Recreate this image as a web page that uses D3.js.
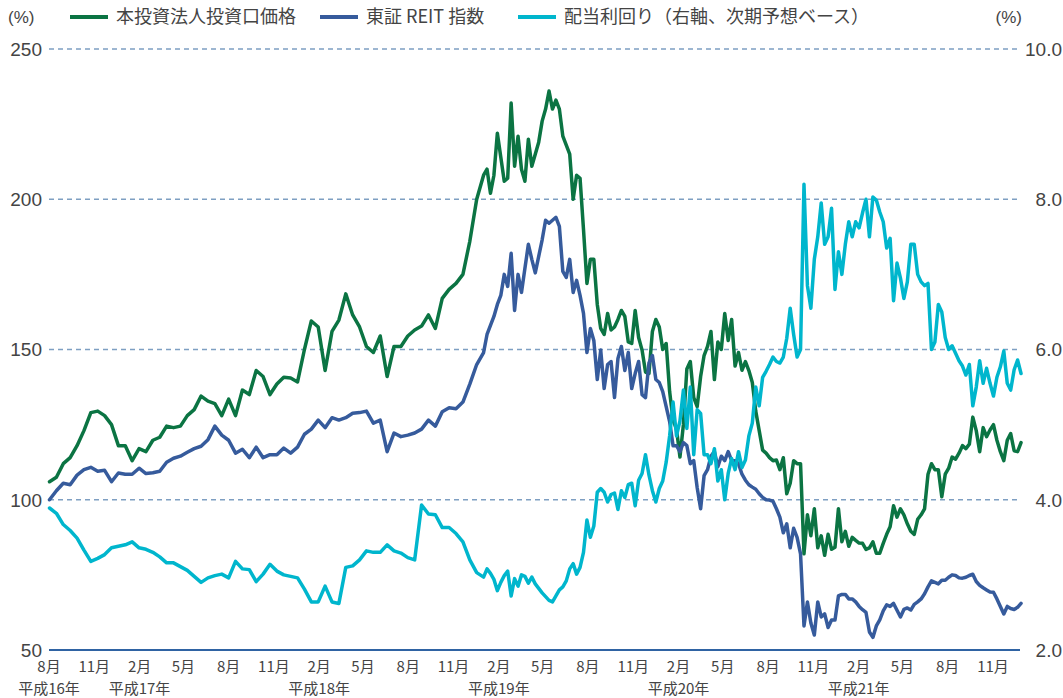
<!DOCTYPE html>
<html>
<head>
<meta charset="utf-8">
<title>本投資法人投資口価格・東証REIT指数・配当利回り</title>
<style>
  body { margin: 0; background: #fff; }
  text { font-family: "Liberation Sans", "Noto Sans CJK JP", sans-serif; fill: #444; }
  .jp { font-family: "Noto Sans CJK JP", sans-serif; }
</style>
<script src="https://cdn.jsdelivr.net/npm/d3@7"></script>
</head>
<body>
<script>
// observations: every 2 weeks from 2004-08-02, then weekly from 2007-01-01
var startDate = new Date(2004, 7, 2);
var biweeklyCount = 63;
var weeklyStart = new Date(2007, 0, 1);

// 本投資法人投資口価格 (index, left axis)
var unitPrice = [
  106, 107.5, 112, 114, 118, 123, 129, 129.5, 128, 125,
  118, 118, 113, 117, 116, 119.8, 120.8, 124.5, 124, 124.5,
  128, 130, 134.5, 132.8, 132, 128, 133.5, 128, 136.5, 135,
  143, 141, 135, 138.5, 140.8, 140.5, 139.2, 150, 159.5, 157.5,
  143, 156, 159.8, 168.5, 161.5, 157.5, 151, 149, 154.5, 141,
  151, 151, 154.5, 156.5, 157.8, 161.5, 157, 167, 170, 172,
  175, 186, 200,
  // weekly from 2007
  208, 210, 202, 208, 222, 214, 206, 207, 232, 211,
  221, 210, 206, 220, 211, 215, 219, 226, 230, 236,
  230, 233, 230, 221, 218, 215, 200, 208, 207, 190,
  172, 180, 180, 165, 157, 155, 162, 156.5, 157.5, 160,
  163, 161, 152.5, 152, 163, 154, 149.8, 142.5, 142, 156,
  160, 157.5, 150, 152, 136, 126.5, 123.5, 114.2, 125, 143.5,
  146, 134, 131, 141, 148, 151, 156, 140, 152.5, 150,
  162, 153, 160, 144.5, 149, 143.1, 146, 143, 139, 129.5,
  123, 116.5, 115.5, 114, 113, 113.2, 110, 114, 102, 105.5,
  113, 112, 112, 82, 95, 88, 97, 84, 88, 81.5,
  88.5, 83.5, 84.2, 97, 86, 89.5, 84.5, 87.5, 86.5, 85.6,
  85.5, 83.5, 84, 86, 82.2, 82.2, 85.5, 88.5, 91, 98,
  94.2, 97, 95, 92, 89.5, 88.5, 93.5, 95, 97, 108.5,
  112, 110, 110, 101, 108.5, 110.5, 114.2, 113.5, 115.5, 118,
  117, 118.5, 127.5, 123, 116, 124, 121, 123.2, 125, 119.8,
  116, 113, 119.8, 122, 116.3, 116, 119
];

// 東証REIT指数 (index, left axis)
var reitIndex = [
  100, 103, 105.5, 105, 108.2, 110, 110.8, 109.5, 109.8, 106,
  108.9, 108.5, 108.5, 110.5, 108.7, 109, 109.5, 112.5, 113.8, 114.5,
  115.8, 117, 117.8, 120, 124.5, 121.5, 119.8, 115.5, 116.8, 114,
  117.5, 114, 115, 115, 117.2, 115.5, 117.5, 121.8, 123.5, 126.5,
  124, 127.3, 126.5, 127.3, 128.8, 129, 129.5, 125.5, 126.5, 116,
  122.2, 121, 121.5, 122.2, 123.5, 126.5, 124.5, 129.3, 130.6, 130.3,
  132.5, 138.5, 145,
  // weekly from 2007
  149, 155, 158, 161, 165, 168, 175, 171, 182, 163,
  175, 169, 177, 185, 180, 175.5, 181, 186.5, 193, 192,
  193, 194, 191, 176, 174, 180, 169, 173, 168, 162,
  149, 157, 153, 140, 149.8, 137, 145, 146, 134, 147,
  151, 143, 149, 137, 142, 146, 135, 134, 145.5, 148,
  140, 139, 136, 131, 126, 118, 118, 116, 119, 118,
  112, 113, 104, 97, 108, 110, 114.5, 116, 111, 114.5,
  113, 116, 113, 113, 112, 108.5, 106.5, 105, 104.2, 103.5,
  102, 100.8, 100, 99.9, 99.5, 97, 94.2, 89, 92, 84,
  90.5, 87.5, 82, 58, 66, 59, 55, 66, 61, 62,
  57.5, 60, 60, 68, 68.5, 68.5, 67, 67, 66, 64.5,
  63.4, 62.5, 56, 54.2, 58, 60, 63, 65, 64.5, 65.5,
  63.2, 61, 63.5, 64, 63.3, 65.2, 66, 67, 68.7, 71,
  73, 72.5, 72, 73.2, 73.2, 74.2, 75, 74.8, 74, 73.9,
  74.2, 74.8, 75.2, 72.8, 71.5, 70.7, 70, 69.3, 69.2, 67,
  64.5, 62, 64.5, 63.8, 63.5, 64.2, 65.5
];

// 配当利回り (%, right axis, 次期予想ベース)
var dividendYield = [
  3.89, 3.82, 3.67, 3.59, 3.49, 3.33, 3.18, 3.22, 3.27, 3.36,
  3.38, 3.40, 3.44, 3.36, 3.34, 3.30, 3.24, 3.16, 3.16, 3.11,
  3.06, 2.98, 2.90, 2.96, 2.99, 3.01, 2.96, 3.18, 3.08, 3.07,
  2.91, 3.01, 3.14, 3.05, 3.00, 2.98, 2.96, 2.81, 2.64, 2.64,
  2.85, 2.64, 2.62, 3.10, 3.12, 3.20, 3.32, 3.30, 3.30, 3.40,
  3.32, 3.29, 3.23, 3.20, 3.93, 3.81, 3.80, 3.63, 3.63, 3.55,
  3.44, 3.20, 3.03,
  // weekly from 2007
  2.97, 3.08, 3.02, 2.94, 2.79, 2.90, 2.99, 3.05, 2.72, 2.95,
  2.85, 3.00, 2.98, 2.89, 2.97, 2.88, 2.82, 2.76, 2.71, 2.66,
  2.64, 2.72, 2.80, 2.84, 2.92, 3.08, 3.15, 3.01, 3.10, 3.30,
  3.73, 3.50, 3.65, 4.10, 4.15, 4.10, 3.97, 4.07, 4.09, 3.87,
  4.12, 4.03, 4.20, 4.22, 3.92, 4.26, 4.35, 4.60, 4.33, 4.12,
  3.97, 4.15, 4.25, 4.50, 4.85, 5.30, 4.85, 5.05, 5.46, 4.95,
  5.50, 4.60, 5.20, 5.15, 4.60, 4.60, 4.48, 4.68, 4.25, 4.40,
  4.00, 4.35, 4.55, 4.40, 4.64, 4.43, 4.53, 4.85, 5.02, 5.50,
  5.25, 5.63, 5.71, 5.80, 5.90, 5.84, 5.82, 5.90, 6.15, 6.55,
  6.20, 5.90, 6.00, 8.20, 6.85, 6.55, 7.20, 7.50, 7.95, 7.40,
  7.50, 7.88, 6.80, 7.30, 7.00, 7.40, 7.70, 7.50, 7.70, 7.62,
  7.82, 8.00, 7.50, 8.03, 7.99, 7.83, 7.70, 7.35, 7.48, 6.65,
  7.15, 6.95, 6.68, 6.90, 7.40, 7.40, 7.00, 6.90, 6.85, 6.88,
  6.00, 6.10, 6.60, 6.50, 6.16, 6.00, 6.05, 5.95, 5.85, 5.78,
  5.66, 5.80, 5.25, 5.50, 5.85, 5.55, 5.75, 5.55, 5.38, 5.63,
  5.77, 5.98, 5.55, 5.46, 5.73, 5.86, 5.68
];

var leftTicks = [50, 100, 150, 200, 250];
var rightTicks = ["2.0", "4.0", "6.0", "8.0", "10.0"];
var monthTicks = ["2004-08", "2004-11", "2005-02", "2005-05", "2005-08", "2005-11",
  "2006-02", "2006-05", "2006-08", "2006-11", "2007-02", "2007-05", "2007-08",
  "2007-11", "2008-02", "2008-05", "2008-08", "2008-11", "2009-02", "2009-05",
  "2009-08", "2009-11"];
var yearLabels = [
  {month: "2004-08", label: "平成16年"},
  {month: "2005-02", label: "平成17年"},
  {month: "2006-02", label: "平成18年"},
  {month: "2007-02", label: "平成19年"},
  {month: "2008-02", label: "平成20年"},
  {month: "2009-02", label: "平成21年"}
];
var seriesNames = ["本投資法人投資口価格", "東証 REIT 指数", "配当利回り（右軸、次期予想ベース）"];
var colors = ["#0b7443", "#365b9c", "#00b6cd"];

var width = 1063, height = 698;
var plotLeft = 49, plotRight = 1021, plotTop = 49, plotBottom = 650;

var svg = d3.select("body").append("svg")
  .attr("width", width)
  .attr("height", height);

var parseMonth = d3.timeParse("%Y-%m");
var dates = unitPrice.map(function(d, i) {
  if (i < biweeklyCount) return d3.timeDay.offset(startDate, i * 14);
  return d3.timeDay.offset(weeklyStart, (i - biweeklyCount) * 7);
});

var x = d3.scaleTime()
  .domain([new Date(2004, 7, 1), new Date(2010, 0, 1)])
  .range([plotLeft, plotRight + 2]);
var yL = d3.scaleLinear().domain([50, 250]).range([plotBottom, plotTop]);
var yR = d3.scaleLinear().domain([2, 10]).range([plotBottom, plotTop]);

// grid
svg.append("g").selectAll("line")
  .data(leftTicks.slice(1))
  .enter().append("line")
    .attr("x1", plotLeft).attr("x2", plotRight - 1)
    .attr("y1", function(d) { return yL(d); })
    .attr("y2", function(d) { return yL(d); })
    .attr("stroke", "#7e9fc2")
    .attr("stroke-width", 1.4)
    .attr("stroke-dasharray", "5,4");

svg.append("line")
  .attr("x1", plotLeft).attr("x2", plotRight - 1)
  .attr("y1", yL(50)).attr("y2", yL(50))
  .attr("stroke", "#2f63a3")
  .attr("stroke-width", 2);

// left axis labels
svg.append("g").selectAll("text")
  .data(leftTicks)
  .enter().append("text")
    .attr("x", 42)
    .attr("y", function(d) { return yL(d); })
    .attr("dy", "0.36em")
    .attr("text-anchor", "end")
    .style("font-size", "19px")
    .text(function(d) { return d; });

// right axis labels
svg.append("g").selectAll("text")
  .data(rightTicks)
  .enter().append("text")
    .attr("x", 1062)
    .attr("y", function(d) { return yR(+d); })
    .attr("dy", "0.36em")
    .attr("text-anchor", "end")
    .style("font-size", "19px")
    .text(function(d) { return d; });

svg.append("text").attr("x", 8).attr("y", 17).attr("dy", "0.36em")
  .style("font-size", "17px").text("(%)");
svg.append("text").attr("x", 1022).attr("y", 17).attr("dy", "0.36em")
  .attr("text-anchor", "end")
  .style("font-size", "17px").text("(%)");

// month labels
svg.append("g").selectAll("text")
  .data(monthTicks)
  .enter().append("text")
    .attr("class", "jp")
    .attr("x", function(d) { return x(parseMonth(d)); })
    .attr("y", 667)
    .attr("dy", "0.36em")
    .attr("text-anchor", "middle")
    .style("font-size", "15px")
    .text(function(d) { return (+d.slice(5)) + "月"; });

svg.append("g").selectAll("text")
  .data(yearLabels)
  .enter().append("text")
    .attr("class", "jp")
    .attr("x", function(d) { return x(parseMonth(d.month)); })
    .attr("y", 689)
    .attr("dy", "0.36em")
    .attr("text-anchor", "middle")
    .style("font-size", "15px")
    .text(function(d) { return d.label; });

// lines
var lineL = d3.line()
  .x(function(d, i) { return x(dates[i]); })
  .y(function(d) { return yL(d); });
var lineR = d3.line()
  .x(function(d, i) { return x(dates[i]); })
  .y(function(d) { return yR(d); });

var plotted = [
  {values: unitPrice, line: lineL, color: colors[0]},
  {values: reitIndex, line: lineL, color: colors[1]},
  {values: dividendYield, line: lineR, color: colors[2]}
];
svg.append("g").selectAll("path")
  .data(plotted)
  .enter().append("path")
    .attr("d", function(d) { return d.line(d.values); })
    .attr("fill", "none")
    .attr("stroke", function(d) { return d.color; })
    .attr("stroke-width", 3.5)
    .attr("stroke-linejoin", "round")
    .attr("stroke-linecap", "round");

// legend
var legendX = [70, 320, 518];
var legend = svg.append("g").selectAll("g")
  .data(seriesNames)
  .enter().append("g")
    .attr("transform", function(d, i) { return "translate(" + legendX[i] + ",17)"; });
legend.append("line")
  .attr("x1", 0).attr("x2", 38)
  .attr("stroke", function(d, i) { return colors[i]; })
  .attr("stroke-width", 4);
legend.append("text")
  .attr("class", "jp")
  .attr("x", 46)
  .attr("dy", "0.36em")
  .style("font-size", "18px")
  .text(function(d) { return d; });
</script>
</body>
</html>
